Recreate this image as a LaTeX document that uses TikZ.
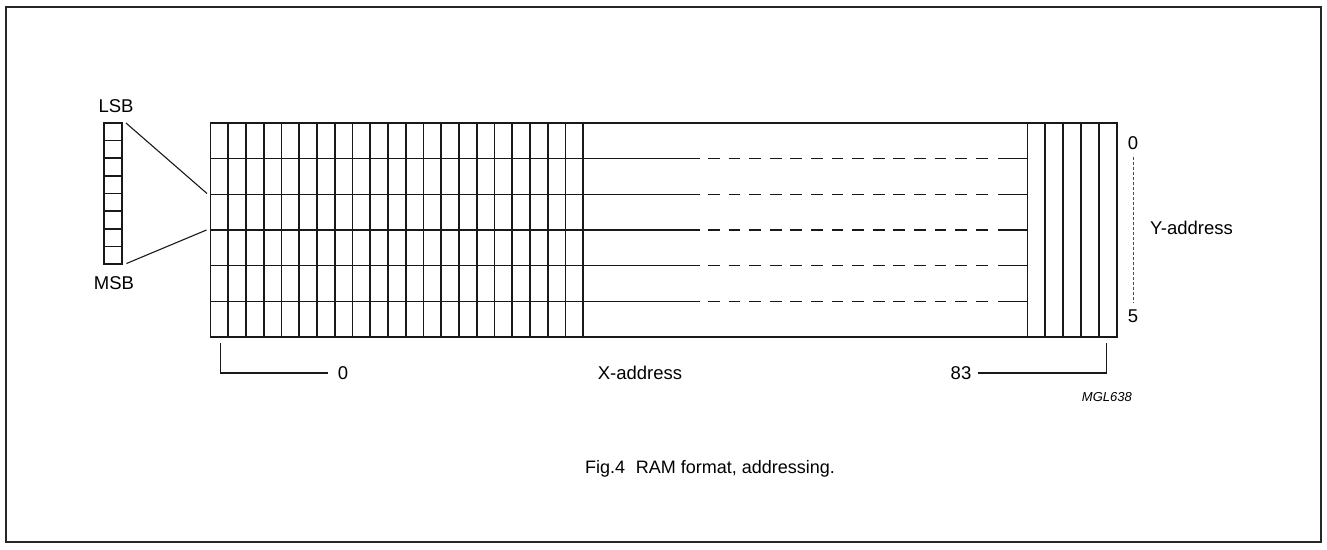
\documentclass[tikz,border=0pt]{standalone}
\usepackage{fontspec}
\setmainfont{Liberation Sans}
\usetikzlibrary{positioning}

\begin{document}
\begin{tikzpicture}[x=1pt,y=-1pt,
  cell/.style={line width=1.6pt,black!90},
  lead/.style={line width=1.1pt,black!90},
  ydash/.style={line width=0.7pt,black!70,dash pattern=on 3pt off 2pt},
  lbl/.style={inner sep=0pt,font=\fontsize{18.5}{22}\selectfont},
  code/.style={inner sep=0pt,font=\fontsize{13}{15}\selectfont\itshape},
  title/.style={inner sep=0pt,font=\fontsize{18}{22}\selectfont}]
\useasboundingbox (0,0) rectangle (1327,549);
\draw[line width=1.8pt,black!85] (6,7) rectangle (1321,542);
% one byte, LSB on top
\draw[cell] (104,123) rectangle (122,264);
\foreach \i in {1,...,7}
  \draw[cell] (104,123+\i*17.625) -- (122,123+\i*17.625);
% RAM cells
\draw[cell] (210.5,123) rectangle (1116.7,337);
\foreach \i in {1,...,21}
  \draw[cell] (210.5+\i*17.75,123) -- (210.5+\i*17.75,337);
\foreach \i in {0,...,4}
  \draw[cell] (1027.3+\i*17.88,123) -- (1027.3+\i*17.88,337);
\foreach \j in {1,...,5} {
  \draw[cell] (210.5,123+\j*35.67) -- (700,123+\j*35.67);
  \draw[cell,dash pattern=on 11.7pt off 8.9pt] (708,123+\j*35.67) -- (988,123+\j*35.67);
  \draw[cell] (998,123+\j*35.67) -- (1027.3,123+\j*35.67);
}
% fan from byte to bank
\coordinate (bytetop) at (126,123);
\coordinate (bytebot) at (126.5,263.5);
\coordinate (banktop) at (207,193.5);
\coordinate (bankbot) at (206.5,230);
\draw[lead] (bytetop) -- (banktop);
\draw[lead] (bytebot) -- (bankbot);
\node[lbl] (lsb) at (116,106) {LSB};
\node[lbl] (msb) at (114,283) {MSB};
% Y-address
\node[lbl] (ytop) at (1133,143) {0};
\node[lbl] (ybot) at (1133,316) {5};
\draw[ydash] ([yshift=-7pt]ytop.south) -- ([yshift=7pt]ybot.north);
\node[lbl,anchor=west] (yaddr) at (1150,228) {Y-address};
% X-address
\node[lbl] (xfirst) at (343,373) {0};
\node[lbl] (xlast) at (961,373) {83};
\node[lbl] (xaddr) at (640,373) {X-address};
\coordinate (xleft) at (220.7,343);
\coordinate (xright) at (1106.7,343);
\draw[lead] (xleft) |- ([xshift=-10pt]xfirst.west);
\draw[lead] ([xshift=6pt]xlast.east) -| (xright);
\node[code,anchor=east] (mgl) at (1132,397) {MGL638};
\node[title] (caption) at (710,469) {Fig.4\hspace{0.6em}RAM format, addressing.};
\end{tikzpicture}
\end{document}
